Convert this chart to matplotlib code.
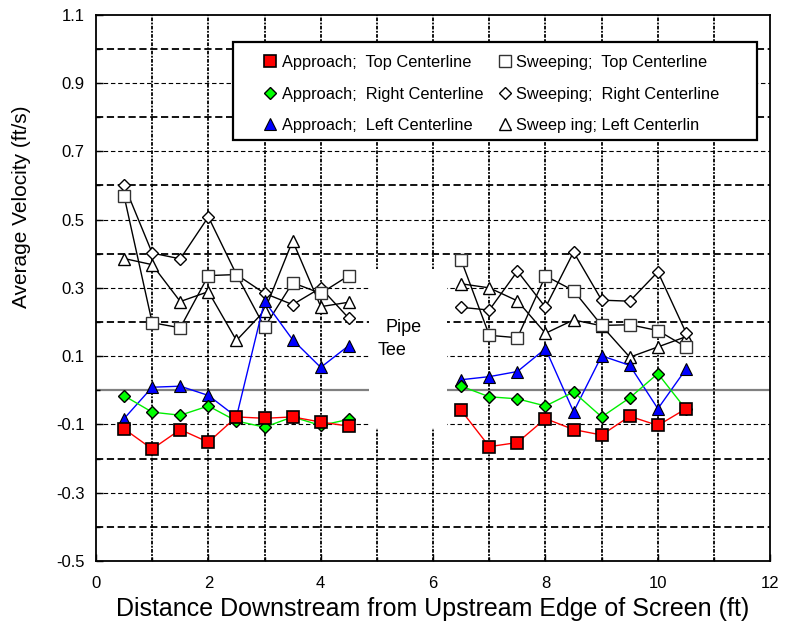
import numpy as np
import matplotlib
matplotlib.use("Agg")
import matplotlib.pyplot as plt
from matplotlib.patches import Rectangle

plt.rcParams['font.family'] = ['Liberation Sans', 'DejaVu Sans']

# measurement stations (ft), upstream and downstream of the pipe tee
x_left = [0.5, 1.0, 1.5, 2.0, 2.5, 3.0, 3.5, 4.0, 4.5]
x_right = [6.5, 7.0, 7.5, 8.0, 8.5, 9.0, 9.5, 10.0, 10.5]

# approach velocities (ft/s), left cluster then right cluster
app_top = [-0.113, -0.172, -0.115, -0.152, -0.078, -0.082, -0.078, -0.093, -0.105,
           -0.059, -0.165, -0.153, -0.083, -0.115, -0.131, -0.076, -0.103, -0.054]
app_right = [-0.016, -0.064, -0.073, -0.046, -0.090, -0.108, -0.078, -0.103, -0.085,
             0.012, -0.019, -0.025, -0.046, -0.005, -0.078, -0.022, 0.049, -0.056]
app_left = [-0.083, 0.009, 0.012, -0.015, -0.078, 0.261, 0.148, 0.067, 0.131,
            0.031, 0.040, 0.055, 0.122, -0.063, 0.101, 0.073, -0.054, 0.062]

# sweeping velocities (ft/s)
swp_top = [0.569, 0.198, 0.183, 0.336, 0.339, 0.185, 0.315, 0.284, 0.336,
           0.381, 0.161, 0.154, 0.335, 0.292, 0.190, 0.192, 0.175, 0.127]
swp_right = [0.602, 0.402, 0.385, 0.508, 0.339, 0.284, 0.251, 0.300, 0.211,
             0.243, 0.235, 0.349, 0.243, 0.405, 0.264, 0.261, 0.347, 0.169]
swp_left = [0.386, 0.368, 0.260, 0.289, 0.146, 0.233, 0.438, 0.245, 0.258,
            0.312, 0.300, 0.262, 0.167, 0.206, 0.189, 0.097, 0.127, 0.157]

labels = ["Approach;  Top Centerline", "Approach;  Right Centerline",
          "Approach;  Left Centerline", "Sweeping;  Top Centerline",
          "Sweeping;  Right Centerline", "Sweep ing; Left Centerlin"]

fig = plt.figure(figsize=(7.9, 6.25), dpi=100)
ax = fig.add_axes([0.1215, 0.1024, 0.8535, 0.874])

# grid drawn by hand so the pipe tee gap can blank it out
for yv in np.arange(-0.4, 1.05, 0.1):
    yv = round(yv, 1)
    if abs(yv) < 1e-9:
        ax.axhline(0, color='#808080', lw=1.6, zorder=0.5)
    elif round(yv * 10) % 2 == 0:
        ax.axhline(yv, color='black', lw=1.3, dashes=(4, 2), zorder=0.5)
    else:
        ax.axhline(yv, color='black', lw=0.8, dashes=(4, 2.5), zorder=0.5)
for xv in range(1, 12):
    ax.axvline(xv, color='black', lw=1.3, dashes=(2, 0.8, 1, 0.8), zorder=0.5)

ax.add_patch(Rectangle((4.85, -0.11), 1.4, 0.465, facecolor='white',
                       edgecolor='none', zorder=1))

styles = [
    (app_top, dict(color='red', marker='s', ms=9, mfc='red', mec='black', mew=1.2)),
    (app_right, dict(color='#00ee00', marker='D', ms=6.5, mfc='#00ff00', mec='black', mew=1.0)),
    (app_left, dict(color='blue', marker='^', ms=8.5, mfc='blue', mec='black', mew=0.8)),
    (swp_top, dict(color='black', marker='s', ms=8.5, mfc='white', mec='#333333', mew=1.0)),
    (swp_right, dict(color='black', marker='D', ms=6.5, mfc='white', mec='black', mew=1.0)),
    (swp_left, dict(color='black', marker='^', ms=8.5, mfc='white', mec='black', mew=1.0)),
]

handles = []
zs = [6, 5, 4, 3, 2.5, 2]
for (vals, st), lab, z in zip(styles, labels, zs):
    n = len(x_left)
    ax.plot(x_left, vals[:n], lw=1.0, zorder=z, **st)
    ax.plot(x_right, vals[n:], lw=1.0, zorder=z, **st)
    h, = ax.plot([], [], ls='none', label=lab,
                 **{k: v for k, v in st.items() if k != 'color'})
    handles.append(h)

ax.text(5.47, 0.185, "Pipe", fontsize=13, ha='center', va='center', zorder=7)
ax.text(5.02, 0.118, "Tee", fontsize=13, ha='left', va='center', zorder=7)

ax.set_xlim(0, 12)
ax.set_ylim(-0.5, 1.1)
ax.set_xticks([0, 2, 4, 6, 8, 10, 12])
ax.set_xticks(range(0, 13), minor=True)
ax.set_yticks([-0.5, -0.3, -0.1, 0.1, 0.3, 0.5, 0.7, 0.9, 1.1])
ax.set_yticks(np.round(np.arange(-0.5, 1.11, 0.1), 1), minor=True)
ax.set_yticklabels(["-0.5", "-0.3", "-0.1", "0.1", "0.3", "0.5", "0.7", "0.9", "1.1"])
ax.tick_params(which='both', direction='in', labelsize=12, length=5, width=1)
ax.tick_params(which='minor', length=3)
ax.tick_params(axis='x', pad=11)
ax.tick_params(axis='y', pad=8)
for sp in ax.spines.values():
    sp.set_linewidth(1.3)

ax.set_xlabel("Distance Downstream from Upstream Edge of Screen (ft)", fontsize=18, labelpad=4)
ax.set_ylabel("Average Velocity (ft/s)", fontsize=15)
ax.yaxis.set_label_coords(-0.097, 0.648)

# legend box drawn separately (wider side margins than matplotlib's padding)
ax.add_patch(Rectangle((0.203, 0.771), 0.778, 0.18, transform=ax.transAxes,
                       facecolor='white', edgecolor='black', lw=1.6, zorder=9))
leg = ax.legend(handles=handles, ncol=2, loc='upper left', bbox_to_anchor=(0.249, 0.926),
                fontsize=11.8, frameon=False, handlelength=0.8, handletextpad=0.3,
                labelspacing=1.0, columnspacing=0.9, borderpad=0,
                borderaxespad=0)
leg.set_zorder(10)

fig.savefig("out.png", dpi=100)
